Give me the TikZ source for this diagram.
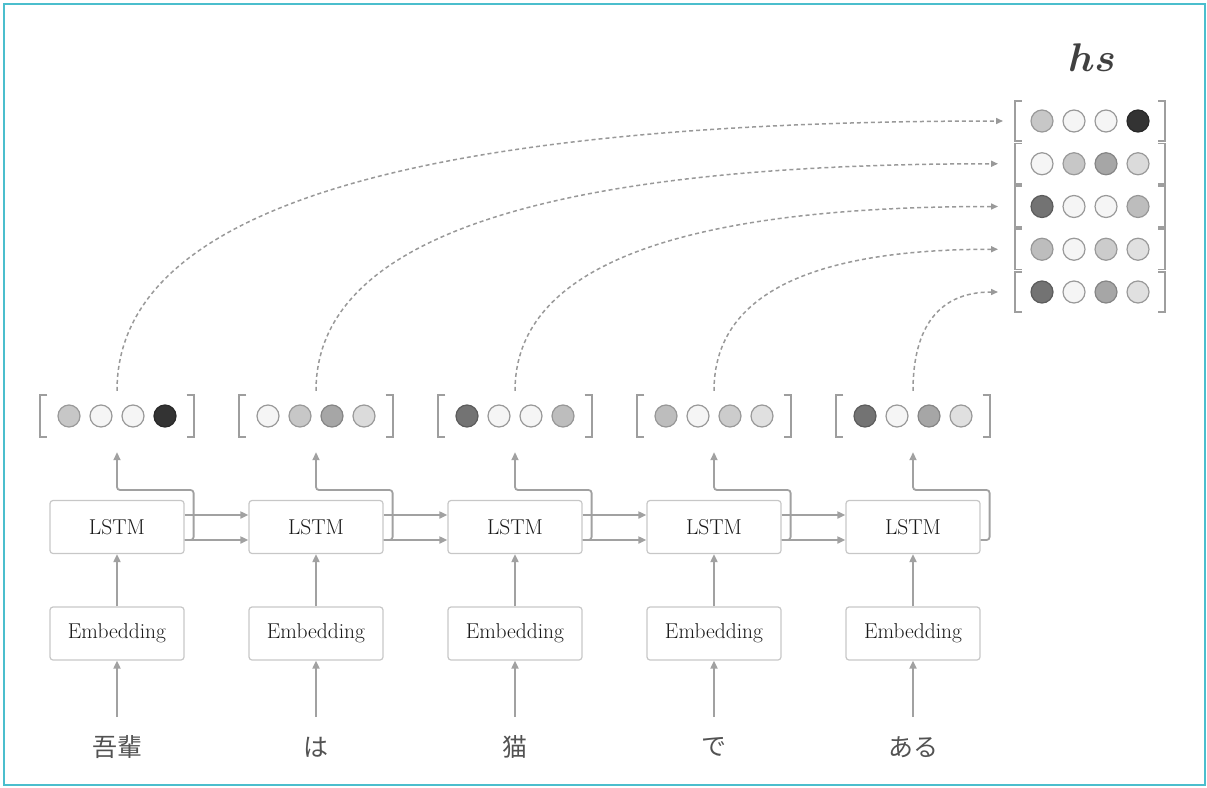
\documentclass[tikz,border=0pt]{standalone}
\usepackage{fontspec}
\usepackage{amsmath}
\usetikzlibrary{arrows.meta,calc}
\newfontfamily\jp{Noto Sans CJK JP}
\definecolor{framec}{RGB}{75,190,205}
\definecolor{boxgray}{gray}{0.78}
\definecolor{arrgray}{gray}{0.63}
\definecolor{dashgray}{gray}{0.6}
\definecolor{brkgray}{gray}{0.62}
\tikzset{
  box/.style={draw=boxgray, rounded corners=3pt, line width=1.2pt, minimum width=134pt, minimum height=53pt, inner sep=0pt, font=\fontsize{21.5}{25}\selectfont, text=black!90},
  arr/.style={draw=arrgray, line width=1.8pt, -{Triangle[length=8pt,width=7pt]}},
  darr/.style={draw=dashgray, line width=1.5pt, dash pattern=on 4pt off 3pt, -{Triangle[length=7pt,width=6pt]}},
  dot/.style={circle, minimum size=22pt, inner sep=0pt, line width=1.2pt},
  brk/.style={draw=brkgray, line width=1.8pt},
  vec/.style={minimum width=153pt, minimum height=42pt, inner sep=0pt},
  row/.style={minimum width=150pt, minimum height=40pt, inner sep=0pt},
  word/.style={inner sep=0pt, font=\jp\fontsize{25}{29}\selectfont, text=black!68}
}
\begin{document}
\begin{tikzpicture}[x=1pt,y=-1pt]
\useasboundingbox (0,0) rectangle (1207,787);
\draw[framec, line width=2.5pt] (4,4) rectangle (1205,785);

% hs label
\node[scale=4, text=black!75] (hs) at (1092,58) {$\boldsymbol{hs}$};

\foreach \i/\w/\a/\b/\c/\d/\ya/\xb/\xe in {
  1/吾輩/0.78/0.96/0.96/0.20/236/330/1003,
  2/は/0.96/0.78/0.65/0.86/261/480/998,
  3/猫/0.45/0.96/0.96/0.74/286/631/998,
  4/で/0.74/0.96/0.80/0.88/310/782/998,
  5/ある/0.45/0.96/0.65/0.88/335/933/998} {
  \pgfmathsetmacro\xc{117+199*(\i-1)}
  \pgfmathsetmacro\yr{121+42.75*(\i-1)}
  % boxes
  \node[box] (l\i) at (\xc,527) {LSTM};
  \node[box] (e\i) at (\xc,633.5) {Embedding};
  \node[word] (w\i) at (\xc,747) {\w};
  \coordinate (s\i) at (\xc,717);
  \draw[arr] (s\i) -- (e\i);
  \draw[arr] (e\i) -- (l\i);
  % vector
  \node[vec] (v\i) at (\xc,416) {};
  \draw[brk] ([xshift=7pt]v\i.north west) -- (v\i.north west) -- (v\i.south west) -- ([xshift=7pt]v\i.south west);
  \draw[brk] ([xshift=-7pt]v\i.north east) -- (v\i.north east) -- (v\i.south east) -- ([xshift=-7pt]v\i.south east);
  % hs row
  \node[row] (h\i) at (1090,\yr) {};
  \draw[brk] ([xshift=7pt]h\i.north west) -- (h\i.north west) -- (h\i.south west) -- ([xshift=7pt]h\i.south west);
  \draw[brk] ([xshift=-7pt]h\i.north east) -- (h\i.north east) -- (h\i.south east) -- ([xshift=-7pt]h\i.south east);
  \foreach \t [count=\j] in {\a,\b,\c,\d} {
    \pgfmathsetmacro\rim{min(\t*0.8,0.6)}
    \definecolor{tone}{gray}{\t}
    \definecolor{rimc}{gray}{\rim}
    \pgfmathsetmacro\off{-48+32*(\j-1)}
    \node[dot, fill=tone, draw=rimc] (c\i-\j) at ($(v\i.center)+(\off,0)$) {};
    \node[dot, fill=tone, draw=rimc] (d\i-\j) at ($(h\i.center)+(\off,0)$) {};
  }
  % output path from LSTM to vector
  \draw[arr, rounded corners=3pt] ([yshift=-13pt]l\i.east) -| ($(l\i.east)+(9,-37)$) -| ([yshift=-15pt]v\i.south);
  % dashed curve
  \coordinate (t\i) at (\xe,\yr);
  \draw[darr] ([yshift=4pt]v\i.north) .. controls (\xc,\ya) and (\xb,\yr) .. (t\i);
}
% recurrent connections
\foreach \i [evaluate=\i as \j using int(\i+1)] in {1,2,3,4} {
  \draw[arr] ([yshift=12pt]l\i.east) -- ([yshift=12pt]l\j.west);
  \draw[arr] ([yshift=-13pt]l\i.east) -- ([yshift=-13pt]l\j.west);
}
\end{tikzpicture}
\end{document}
